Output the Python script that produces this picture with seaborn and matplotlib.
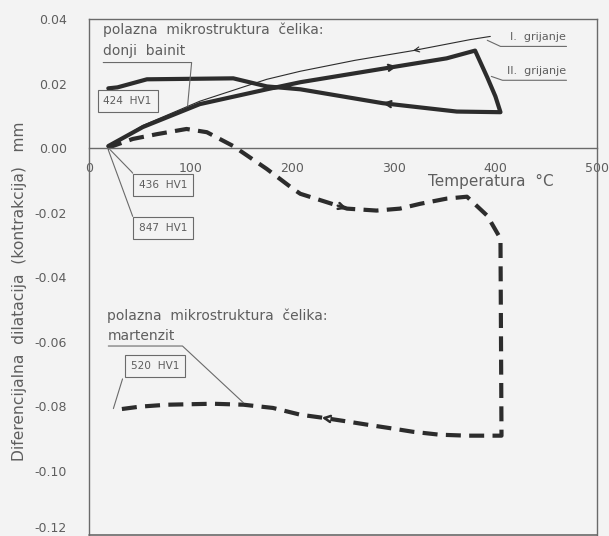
import numpy as np
import pandas as pd
import matplotlib
matplotlib.use("Agg")
import matplotlib.pyplot as plt
import seaborn as sns

# Lower bainite start structure, 2nd heating / cooling loop (thick line)
bainit_T = [19, 53, 109, 175, 208, 303, 352, 380, 392, 400, 405,
            362, 289, 208, 175, 142, 57, 28, 19]
bainit_D = [0.0006, 0.0065, 0.0136, 0.0182, 0.0204, 0.0253, 0.0278, 0.0302, 0.0219, 0.0160, 0.0111,
            0.0113, 0.0139, 0.0182, 0.0191, 0.0216, 0.0213, 0.0188, 0.0185]

# Lower bainite, 1st heating (thin line)
bainit1_T = [19, 53, 109, 175, 208, 262, 319, 352, 375, 395]
bainit1_D = [0.0004, 0.0070, 0.0145, 0.0213, 0.0238, 0.0272, 0.0302, 0.0322, 0.0336, 0.0346]

# Martensite start structure (dashed line)
mart_T = [18, 43, 67, 96, 116, 142, 175, 201, 208, 254, 283, 306, 326, 352, 372, 392, 405, 406,
          372, 345, 319, 299, 274, 250, 229, 208, 181, 152, 122, 77, 50, 26]
mart_D = [0.0, 0.0028, 0.0043, 0.0059, 0.0049, 0.0006, -0.0065, -0.0127, -0.0142, -0.0188,
          -0.0194, -0.0188, -0.0173, -0.0157, -0.0151, -0.0210, -0.0281, -0.0892,
          -0.0892, -0.0889, -0.0880, -0.0870, -0.0858, -0.0846, -0.0836, -0.0827, -0.0806,
          -0.0796, -0.0793, -0.0796, -0.0802, -0.0812]

x_major = [0, 100, 200, 300, 400, 500]
x_labels = ["0", "100", "200", "300", "400", "500"]
y_major = [0.04, 0.02, 0.00, -0.02, -0.04, -0.06, -0.08, -0.10, -0.12]
y_labels = ["0.04", "0.02", "0.00", "-0.02", "-0.04", "-0.06", "-0.08", "-0.10", "-0.12"]

BG = "#f3f3f3"
INK = "#2c2c2c"
TXT = "#5e5e5e"
AX = "#6a6a6a"

sns.set_theme(style="white")
plt.rcParams["font.family"] = ["DejaVu Sans"]

fig = plt.figure(figsize=(6.09, 5.36), dpi=100, facecolor=BG)
ax = fig.add_axes([89 / 609, 1 - 535 / 536, (597 - 89) / 609, (535 - 19) / 536])
ax.set_facecolor(BG)

bain = pd.DataFrame({"T": bainit_T, "D": bainit_D})
bain1 = pd.DataFrame({"T": bainit1_T, "D": bainit1_D})
mart = pd.DataFrame({"T": mart_T, "D": mart_D})

sns.lineplot(data=bain1, x="T", y="D", sort=False, estimator=None, ax=ax,
             color=INK, lw=0.8)
sns.lineplot(data=bain, x="T", y="D", sort=False, estimator=None, ax=ax,
             color=INK, lw=3.0, solid_joinstyle="round")
line_m = sns.lineplot(data=mart, x="T", y="D", sort=False, estimator=None, ax=ax,
                      color=INK, lw=3.0).lines[-1]
line_m.set_dashes((3.6, 2.0))
line_m.set_dash_capstyle("butt")


def arrow_on(xs, ys, i, back=False, lw=1.2, size=11):
    """Open chevron on a curve at vertex i, pointing along (or against) the path."""
    j = i + 1 if back else i - 1
    x0, y0 = xs[j], ys[j]
    x1, y1 = xs[i], ys[i]
    ax.annotate("", xy=(x1, y1), xytext=(x1 + 0.2 * (x0 - x1), y1 + 0.2 * (y0 - y1)),
                arrowprops=dict(arrowstyle="->", color=INK, lw=lw, mutation_scale=size,
                                shrinkA=0, shrinkB=0))


arrow_on(bainit_T, bainit_D, 5, lw=1.6)
arrow_on(bainit_T, bainit_D, 12, lw=1.6)
arrow_on(bainit1_T, bainit1_D, 6, back=True, lw=0.8, size=9)
arrow_on(mart_T, mart_D, 9, lw=1.8)
arrow_on(mart_T, mart_D, 24, lw=1.8)

ax.set_xlim(0, 500)
ax.set_ylim(-0.12, 0.04)

# x-axis runs through zero, the frame is closed below
for s in ["top", "right", "left", "bottom"]:
    ax.spines[s].set_color(AX)
    ax.spines[s].set_linewidth(1.0)
ax.spines["bottom"].set_position(("data", 0))
ax.plot([0, 1], [0, 0], transform=ax.transAxes, color=AX, lw=1.2, clip_on=False)

ax.set_xticks(x_major)
ax.set_xticklabels(x_labels)
ax.set_xticks(np.arange(0, 501, 10), minor=True)
ax.set_yticks(y_major)
ax.set_yticklabels(y_labels)
ax.set_yticks(np.arange(-0.12, 0.0401, 0.005), minor=True)

ax.tick_params(axis="x", which="major", direction="out", length=6, width=1.0,
               color=AX, labelcolor=TXT, labelsize=9, pad=4)
ax.tick_params(axis="x", which="minor", direction="out", length=4, width=0.9, color=AX)
ax.tick_params(axis="y", which="major", direction="out", length=7, width=1.0,
               color=AX, labelcolor=TXT, labelsize=9, pad=9)
ax.tick_params(axis="y", which="minor", direction="out", length=3.5, width=0.9, color=AX)
ax.get_yticklabels()[-1].set_va("bottom")
ax.set_xlabel("")
ax.set_ylabel("")

fig.text(20 / 609, 1 - 291 / 536, "Diferencijalna  dilatacija  (kontrakcija)   mm",
         rotation=90, ha="center", va="center", color=TXT, fontsize=11.2)

ax.text(334, -0.0105, "Temperatura  °C", color=TXT, fontsize=11, ha="left", va="center")

tk = dict(color=TXT, fontsize=10, ha="left", va="center")
lk = dict(color=AX, lw=0.8)

# lower bainite notes
ax.text(14, 0.0367, "polazna  mikrostruktura  čelika:", **tk)
ax.text(14, 0.0300, "donji  bainit", **tk)
ax.plot([14, 101, 97], [0.0265, 0.0265, 0.0130], **lk)

box = dict(boxstyle="square,pad=0.55", fc=BG, ec=AX, lw=0.8)
bk = dict(color=TXT, fontsize=7.6, ha="center", va="center", bbox=box)
ax.text(38, 0.0145, "424  HV1", **bk)
ax.text(73, -0.0114, "436  HV1", **bk)
ax.text(73, -0.0249, "847  HV1", **bk)
ax.plot([21, 42, 43], [-0.0006, -0.0074, -0.0078], **lk)
ax.plot([19, 43], [-0.0006, -0.0212], **lk)

# martensite notes
ax.text(18, -0.0519, "polazna  mikrostruktura  čelika:", **tk)
ax.text(18, -0.0583, "martenzit", **tk)
ax.plot([19, 92, 152], [-0.0614, -0.0614, -0.0790], **lk)
ax.text(65, -0.0676, "520  HV1", **bk)
ax.plot([33, 24], [-0.0716, -0.0808], **lk)

# heating run labels
ax.text(414, 0.0343, "I.  grijanje", color=TXT, fontsize=8, ha="left", va="center")
ax.plot([470, 405, 392], [0.0315, 0.0315, 0.0334], **lk)
ax.text(411, 0.0238, "II.  grijanje", color=TXT, fontsize=8, ha="left", va="center")
ax.plot([470, 407, 396], [0.0210, 0.0210, 0.0222], **lk)

fig.savefig("out.png", dpi=100, facecolor=BG)
